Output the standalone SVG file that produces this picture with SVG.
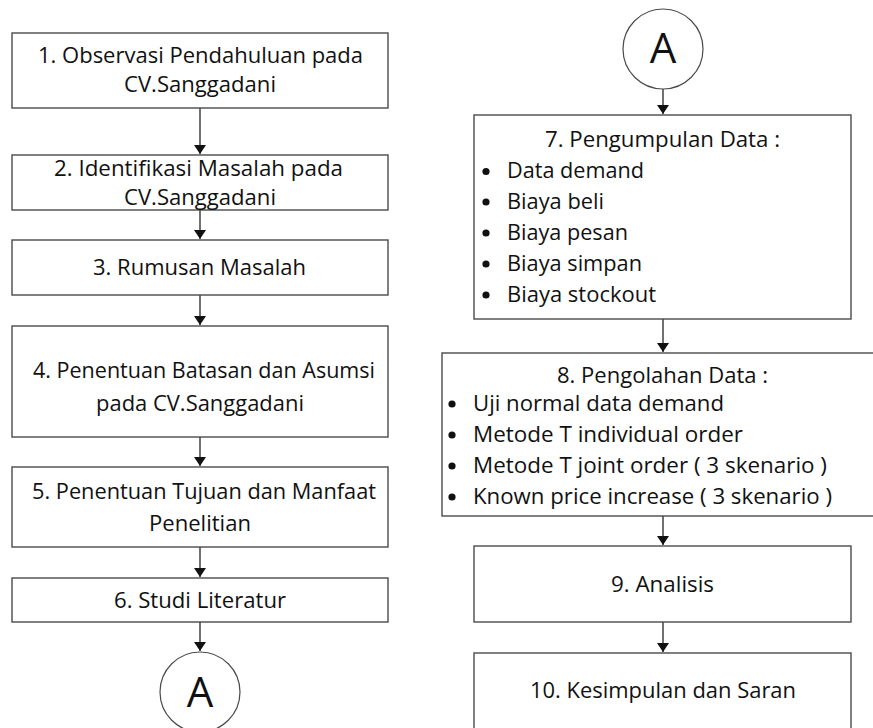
<svg xmlns="http://www.w3.org/2000/svg" width="873" height="728" viewBox="0 0 873 728">
<style>
.box{fill:#fff;stroke:#4a4a4a;stroke-width:1.4}
.t{font-family:"Open Sans","Noto Sans","Liberation Sans",sans-serif;font-size:21px;fill:#111}
.big{font-family:"Open Sans","Noto Sans","Liberation Sans",sans-serif;font-size:42px;fill:#111;text-anchor:middle}
.ln{stroke:#111;stroke-width:1.2;fill:none;marker-end:url(#ah)}
.bul{fill:#111}
</style>
<defs>
<marker id="ah" markerWidth="9" markerHeight="12" refX="9" refY="6" orient="auto" markerUnits="userSpaceOnUse" viewBox="0 0 9 12">
<path d="M0,0 L9,6 L0,12 Z" fill="#111"/>
</marker>
</defs>
<rect width="873" height="728" fill="#fff"/>
<g id="connectors">
<line class="ln" x1="200" y1="108" x2="200" y2="154"/>
<line class="ln" x1="200" y1="210" x2="200" y2="239"/>
<line class="ln" x1="200" y1="295" x2="200" y2="325"/>
<line class="ln" x1="200" y1="437" x2="200" y2="466"/>
<line class="ln" x1="200" y1="547" x2="200" y2="577"/>
<line class="ln" x1="200" y1="622" x2="200" y2="651"/>
<line class="ln" x1="663" y1="89" x2="663" y2="114"/>
<line class="ln" x1="663" y1="319" x2="663" y2="352"/>
<line class="ln" x1="663" y1="516" x2="663" y2="545"/>
<line class="ln" x1="663" y1="622" x2="663" y2="652"/>
</g>
<g id="n1"><rect class="box" x="12" y="33" width="376" height="75"/>
<text class="t" x="38" y="62.5" textLength="325" lengthAdjust="spacingAndGlyphs">1. Observasi Pendahuluan pada</text>
<text class="t" x="124" y="92" textLength="152" lengthAdjust="spacingAndGlyphs">CV.Sanggadani</text></g>
<g id="n2"><rect class="box" x="12" y="155" width="376" height="55"/>
<text class="t" x="54" y="176" textLength="289" lengthAdjust="spacingAndGlyphs">2. Identifikasi Masalah pada</text>
<text class="t" x="124" y="205" textLength="152" lengthAdjust="spacingAndGlyphs">CV.Sanggadani</text></g>
<g id="n3"><rect class="box" x="12" y="240" width="376" height="55"/>
<text class="t" x="93" y="275" textLength="213" lengthAdjust="spacingAndGlyphs">3. Rumusan Masalah</text></g>
<g id="n4"><rect class="box" x="12" y="326" width="376" height="111"/>
<text class="t" x="33" y="378" textLength="342" lengthAdjust="spacingAndGlyphs">4. Penentuan Batasan dan Asumsi</text>
<text class="t" x="96" y="411" textLength="208" lengthAdjust="spacingAndGlyphs">pada CV.Sanggadani</text></g>
<g id="n5"><rect class="box" x="12" y="467" width="376" height="80"/>
<text class="t" x="32" y="498.5" textLength="344" lengthAdjust="spacingAndGlyphs">5. Penentuan Tujuan dan Manfaat</text>
<text class="t" x="149" y="530.5" textLength="102" lengthAdjust="spacingAndGlyphs">Penelitian</text></g>
<g id="n6"><rect class="box" x="12" y="578" width="376" height="44"/>
<text class="t" x="114" y="607.5" textLength="172" lengthAdjust="spacingAndGlyphs">6. Studi Literatur</text></g>
<g id="a1"><circle cx="200" cy="692" r="40" fill="#fff" stroke="#4a4a4a" stroke-width="1.2"/>
<text class="big" x="200" y="707">A</text></g>
<g id="a2"><circle cx="663" cy="49" r="40" fill="#fff" stroke="#4a4a4a" stroke-width="1.2"/>
<text class="big" x="663" y="63">A</text></g>
<g id="n7"><rect class="box" x="474" y="115" width="377" height="204"/>
<text class="t" x="545" y="146.5" textLength="235" lengthAdjust="spacingAndGlyphs">7. Pengumpulan Data :</text>
<circle class="bul" cx="486" cy="171.5" r="3.6"/><text class="t" x="507" y="178" textLength="137" lengthAdjust="spacingAndGlyphs">Data demand</text>
<circle class="bul" cx="486" cy="202" r="3.6"/><text class="t" x="507" y="208.5" textLength="97" lengthAdjust="spacingAndGlyphs">Biaya beli</text>
<circle class="bul" cx="486" cy="233" r="3.6"/><text class="t" x="507" y="239.5" textLength="121" lengthAdjust="spacingAndGlyphs">Biaya pesan</text>
<circle class="bul" cx="486" cy="264" r="3.6"/><text class="t" x="507" y="270.5" textLength="135" lengthAdjust="spacingAndGlyphs">Biaya simpan</text>
<circle class="bul" cx="486" cy="295" r="3.6"/><text class="t" x="507" y="301.5" textLength="149" lengthAdjust="spacingAndGlyphs">Biaya stockout</text>
</g>
<g id="n8"><rect class="box" x="442" y="353" width="440" height="163"/>
<text class="t" x="557" y="382.5" textLength="211" lengthAdjust="spacingAndGlyphs">8. Pengolahan Data :</text>
<circle class="bul" cx="452" cy="404" r="3.6"/><text class="t" x="473" y="410.5" textLength="251" lengthAdjust="spacingAndGlyphs">Uji normal data demand</text>
<circle class="bul" cx="452" cy="435" r="3.6"/><text class="t" x="473" y="441.5" textLength="270" lengthAdjust="spacingAndGlyphs">Metode T individual order</text>
<circle class="bul" cx="452" cy="466" r="3.6"/><text class="t" x="473" y="472.5" textLength="354" lengthAdjust="spacingAndGlyphs">Metode T joint order ( 3 skenario )</text>
<circle class="bul" cx="452" cy="497" r="3.6"/><text class="t" x="473" y="503.5" textLength="359" lengthAdjust="spacingAndGlyphs">Known price increase ( 3 skenario )</text>
</g>
<g id="n9"><rect class="box" x="474" y="546" width="377" height="76"/>
<text class="t" x="611" y="591.5" textLength="103" lengthAdjust="spacingAndGlyphs">9. Analisis</text></g>
<g id="n10"><rect class="box" x="474" y="653" width="377" height="90"/>
<text class="t" x="530" y="697.5" textLength="266" lengthAdjust="spacingAndGlyphs">10. Kesimpulan dan Saran</text></g>
</svg>
